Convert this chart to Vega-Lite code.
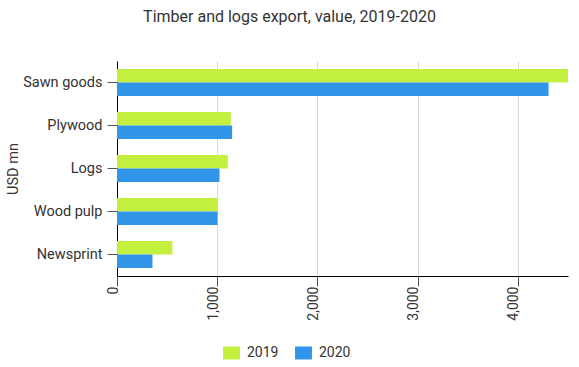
{
  "$schema": "https://vega.github.io/schema/vega-lite/v6.json",
  "autosize": {"type": "none"},
  "width": 451,
  "height": 215,
  "padding": {"left": 117, "top": 61, "right": 11, "bottom": 91},
  "background": "white",
  "title": {
    "text": "Timber and logs export, value, 2019-2020",
    "font": "Roboto",
    "fontSize": 16,
    "fontWeight": "normal",
    "color": "#333333",
    "anchor": "middle",
    "frame": "group",
    "dx": -53,
    "offset": 36
  },
  "data": {
    "values": [
      {"product": "Sawn goods", "year": "2019", "value": 4500},
      {"product": "Sawn goods", "year": "2020", "value": 4306},
      {"product": "Plywood", "year": "2019", "value": 1136},
      {"product": "Plywood", "year": "2020", "value": 1149},
      {"product": "Logs", "year": "2019", "value": 1106},
      {"product": "Logs", "year": "2020", "value": 1023},
      {"product": "Wood pulp", "year": "2019", "value": 1003},
      {"product": "Wood pulp", "year": "2020", "value": 1003},
      {"product": "Newsprint", "year": "2019", "value": 553},
      {"product": "Newsprint", "year": "2020", "value": 354}
    ]
  },
  "mark": {"type": "bar"},
  "encoding": {
    "y": {
      "field": "product",
      "type": "nominal",
      "sort": ["Sawn goods", "Plywood", "Logs", "Wood pulp", "Newsprint"],
      "scale": {"paddingInner": 0.37, "paddingOuter": 0.185},
      "axis": {
        "title": "USD mn",
        "titleFont": "Roboto",
        "titleFontSize": 14.5,
        "titleFontWeight": "normal",
        "titleColor": "#333333",
        "titlePadding": 2,
        "labelFont": "Roboto",
        "labelFontSize": 14.5,
        "labelColor": "#333333",
        "labelPadding": 5,
        "tickSize": 10,
        "tickColor": "#555555",
        "domainColor": "#000000",
        "grid": false
      }
    },
    "yOffset": {"field": "year", "type": "nominal"},
    "x": {
      "field": "value",
      "type": "quantitative",
      "scale": {"domain": [0, 4500], "nice": false},
      "axis": {
        "title": null,
        "values": [0, 1000, 2000, 3000, 4000],
        "format": ",.0f",
        "labelAngle": -90,
        "labelAlign": "right",
        "labelBaseline": "alphabetic",
        "labelFont": "Roboto",
        "labelFontSize": 14,
        "labelColor": "#333333",
        "labelPadding": 0,
        "tickSize": 10,
        "tickColor": "#555555",
        "domainColor": "#000000",
        "grid": true,
        "gridColor": "#d8d8d8",
        "gridWidth": 1
      }
    },
    "color": {
      "field": "year",
      "type": "nominal",
      "scale": {"domain": ["2019", "2020"], "range": ["#c3ef3e", "#3196ea"]},
      "legend": {
        "title": null,
        "orient": "none",
        "direction": "horizontal",
        "legendX": 107.5,
        "legendY": 285,
        "symbolType": "M-1.3,-1H1.3V1H-1.3Z",
        "symbolSize": 169,
        "symbolStrokeWidth": 0,
        "labelFont": "Roboto",
        "labelFontSize": 14,
        "labelColor": "#333333",
        "columnPadding": 16,
        "labelOffset": 8.5
      }
    }
  },
  "config": {
    "view": {"stroke": null},
    "axis": {"domainWidth": 1}
  }
}
